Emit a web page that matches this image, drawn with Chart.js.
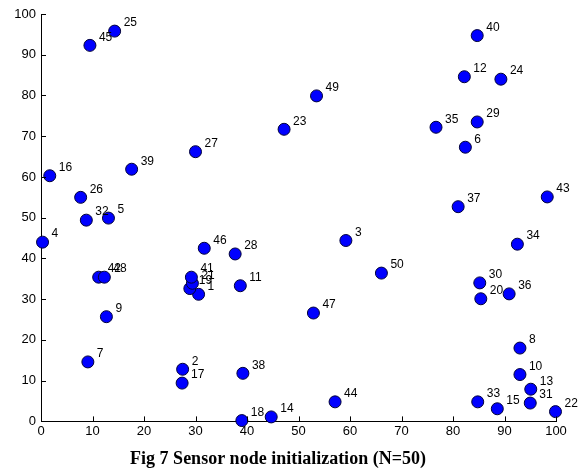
<!DOCTYPE html>
<html>
<head>
<meta charset="utf-8">
<script src="https://cdn.jsdelivr.net/npm/chart.js@4/dist/chart.umd.min.js"></script>
<style>
  html, body { margin: 0; padding: 0; background: #fff; }
  #wrap { width: 582px; height: 474px; }
</style>
</head>
<body>
<div id="wrap"><canvas id="nodes" width="582" height="474"></canvas></div>
<script>
// sensor node positions, node id = index + 1
const nodeIds = [
  1, 2, 3, 4, 5, 6, 7, 8, 9, 10,
  11, 12, 13, 14, 15, 16, 17, 18, 19, 20,
  21, 22, 23, 24, 25, 26, 27, 28, 29, 30,
  31, 32, 33, 34, 35, 36, 37, 38, 39, 40,
  41, 42, 43, 44, 45, 46, 47, 48, 49, 50
];
const nodeX = [
  30.6, 27.5, 59.2, 0.3, 13.1, 82.4, 9.1, 93.0, 12.7, 93.0,
  38.7, 82.2, 95.1, 44.7, 88.6, 1.7, 27.4, 39.0, 28.9, 85.4,
  29.4, 99.9, 47.2, 89.3, 14.3, 7.7, 30.0, 37.7, 84.7, 85.2,
  95.0, 8.8, 84.8, 92.5, 76.7, 90.9, 81.0, 39.2, 17.6, 84.7,
  29.2, 11.2, 98.3, 57.1, 9.5, 31.7, 52.9, 12.3, 53.5, 66.1
];
const nodeY = [
  31.2, 12.8, 44.4, 44.0, 49.9, 67.3, 14.6, 18.0, 25.7, 11.5,
  33.3, 84.6, 7.9, 1.1, 3.1, 60.3, 9.4, 0.2, 32.6, 30.1,
  33.9, 2.4, 71.7, 84.0, 95.8, 55.0, 66.2, 41.1, 73.5, 34.0,
  4.5, 49.4, 4.8, 43.5, 72.2, 31.3, 52.7, 11.8, 61.9, 94.7,
  35.4, 35.4, 55.1, 4.8, 92.3, 42.5, 26.6, 35.4, 79.9, 36.4
];
const tickValues = [0, 10, 20, 30, 40, 50, 60, 70, 80, 90, 100];
const caption = "Fig 7 Sensor node initialization (N=50)";

const points = nodeIds.map((id, i) => ({ x: nodeX[i], y: nodeY[i] }));

// short tick marks pointing into the plot, like matlab
const innerTicks = {
  id: "innerTicks",
  afterDatasetsDraw(chart) {
    const { ctx, chartArea, scales } = chart;
    ctx.save();
    ctx.strokeStyle = "#000";
    ctx.lineWidth = 1;
    ctx.beginPath();
    tickValues.forEach((v) => {
      const px = Math.round(scales.x.getPixelForValue(v)) + 0.5;
      ctx.moveTo(px, chartArea.bottom);
      ctx.lineTo(px, chartArea.bottom - 5);
      const py = Math.round(scales.y.getPixelForValue(v)) + 0.5;
      ctx.moveTo(chartArea.left, py);
      ctx.lineTo(chartArea.left + 5, py);
    });
    ctx.stroke();
    ctx.restore();
  }
};

// node number next to each marker
const nodeLabels = {
  id: "nodeLabels",
  afterDatasetsDraw(chart) {
    const { ctx, scales } = chart;
    ctx.save();
    ctx.font = "12px 'Liberation Sans', Arial, sans-serif";
    ctx.fillStyle = "#000";
    ctx.textAlign = "left";
    ctx.textBaseline = "middle";
    nodeIds.forEach((id, i) => {
      const px = scales.x.getPixelForValue(nodeX[i]);
      const py = scales.y.getPixelForValue(nodeY[i]);
      ctx.fillText(String(id), px + 9, py - 8);
    });
    ctx.restore();
  }
};

new Chart(document.getElementById("nodes"), {
  type: "scatter",
  data: {
    datasets: [{
      label: "nodes",
      data: points,
      backgroundColor: "#0000ff",
      borderColor: "#00003a",
      borderWidth: 1,
      pointRadius: 6,
      pointHoverRadius: 6,
      clip: false
    }]
  },
  options: {
    responsive: false,
    animation: false,
    events: [],
    layout: { padding: { top: 14, right: 26, bottom: 4, left: 0 } },
    plugins: {
      legend: { display: false },
      tooltip: { enabled: false },
      title: {
        display: true,
        position: "bottom",
        text: caption,
        color: "#000",
        font: { family: "'Liberation Serif', 'Times New Roman', serif", size: 18, weight: "bold" },
        padding: { top: 7, bottom: 0 }
      }
    },
    scales: {
      x: {
        type: "linear",
        min: 0,
        max: 100,
        grid: { display: false, drawTicks: false },
        border: { display: true, color: "#000", width: 1 },
        ticks: {
          stepSize: 10,
          padding: 2,
          color: "#000",
          maxRotation: 0,
          font: { family: "'Liberation Sans', Arial, sans-serif", size: 13 }
        },
        afterFit(scale) { scale.height = 20; }
      },
      y: {
        type: "linear",
        min: 0,
        max: 100,
        grid: { display: false, drawTicks: false },
        border: { display: true, color: "#000", width: 1 },
        ticks: {
          stepSize: 10,
          padding: 5,
          color: "#000",
          font: { family: "'Liberation Sans', Arial, sans-serif", size: 13 }
        },
        afterFit(scale) { scale.width = 41; }
      }
    }
  },
  plugins: [innerTicks, nodeLabels]
});
</script>
</body>
</html>
